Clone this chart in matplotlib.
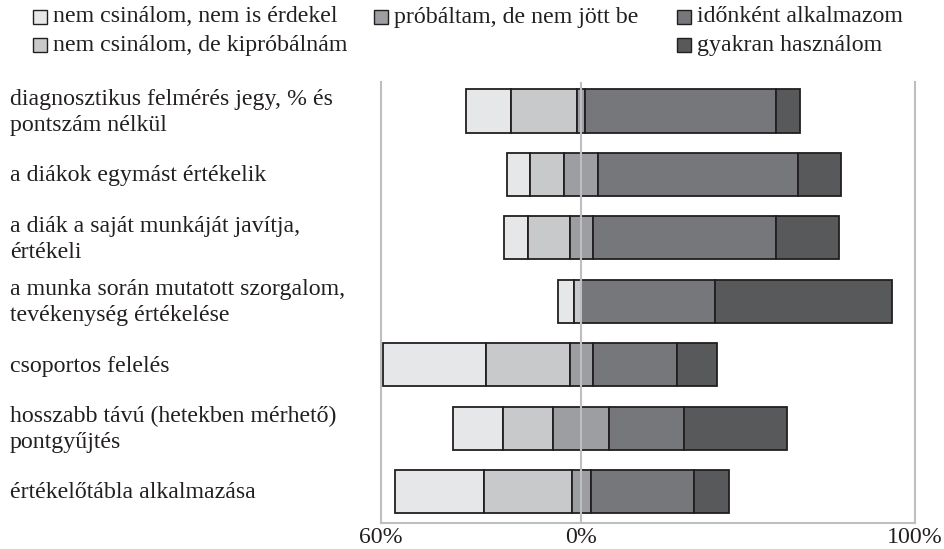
import matplotlib
matplotlib.use('Agg')
import matplotlib.pyplot as plt
from matplotlib.patches import Rectangle
import numpy as np

plt.rcParams['font.family'] = ['Liberation Serif', 'DejaVu Serif']

categories = [
    'diagnosztikus felmérés jegy, % és\npontszám nélkül',
    'a diákok egymást értékelik',
    'a diák a saját munkáját javítja,\nértékeli',
    'a munka során mutatott szorgalom,\ntevékenység értékelése',
    'csoportos felelés',
    'hosszabb távú (hetekben mérhető)\npontgyűjtés',
    'értékelőtábla alkalmazása',
]
series_names = [
    'nem csinálom, nem is érdekel',
    'nem csinálom, de kipróbálnám',
    'próbáltam, de nem jött be',
    'időnként alkalmazom',
    'gyakran használom',
]
nem_erdekel = [13.5, 7.1, 7.0, 4.7, 30.9, 15.0, 26.7]
kiprobalnam = [19.7, 10.1, 12.5, 2.3, 25.2, 14.9, 26.2]
probaltam = [2.4, 10.3, 7.0, 0.0, 6.8, 16.9, 5.6]
idonkent = [57.3, 59.8, 55.0, 40.0, 25.3, 22.2, 31.1]
gyakran = [7.1, 12.8, 18.6, 53.0, 12.0, 31.0, 10.5]
tick_values = [-60, 0, 100]
tick_labels = ['60%', '0%', '100%']

colors = ['#e6e7e8', '#c8c9ca', '#9d9ea1', '#76777a', '#58595b']
edge = '#231f20'
grey = '#bcbec0'
fs = 17.2

fig = plt.figure(figsize=(9.45, 5.49), dpi=100)
ax = fig.add_axes([381 / 945, 1 - 523 / 549, 534 / 945, 441 / 549])

values = np.array([nem_erdekel, kiprobalnam, probaltam, idonkent, gyakran])
y = np.arange(len(categories))
left = -(values[0] + values[1] + values[2] / 2)
for i in range(len(series_names)):
    ax.barh(y, values[i], left=left, height=0.68, color=colors[i],
            edgecolor=edge, linewidth=1.3, zorder=2)
    left = left + values[i]

ax.axvline(0, color=grey, linewidth=1.5, zorder=3)
ax.set_xlim(-60, 100)
ax.set_ylim(6.493, -0.457)
ax.set_yticks([])
ax.set_xticks(tick_values)
ax.set_xticklabels(tick_labels, fontsize=fs, color='#231f20')
ax.tick_params(axis='x', length=0, pad=3)
for s in ['left', 'right', 'bottom']:
    ax.spines[s].set_color(grey)
    ax.spines[s].set_linewidth(1.5)
ax.spines['top'].set_visible(False)

for yi, lab in zip(y, categories):
    ax.text(-371 / 534, yi + 0.02, lab, transform=ax.get_yaxis_transform(),
            ha='left', va='center', fontsize=fs, color='#231f20',
            linespacing=1.3)

# legend laid out by hand: three columns, gap in the middle one
legend_pos = [(33, 17), (33, 45), (374, 17), (677, 17), (677, 45)]
W, H = 945, 549
for (px, py), name, c in zip(legend_pos, series_names, colors):
    fig.patches.append(Rectangle((px / W, 1 - (py + 7) / H), 14 / W, 14 / H,
                                 transform=fig.transFigure, facecolor=c,
                                 edgecolor=edge, linewidth=1.0))
    fig.text((px + 20) / W, 1 - py / H, name, ha='left', va='center',
             fontsize=fs, color='#231f20')

fig.savefig('out.png', dpi=100)
